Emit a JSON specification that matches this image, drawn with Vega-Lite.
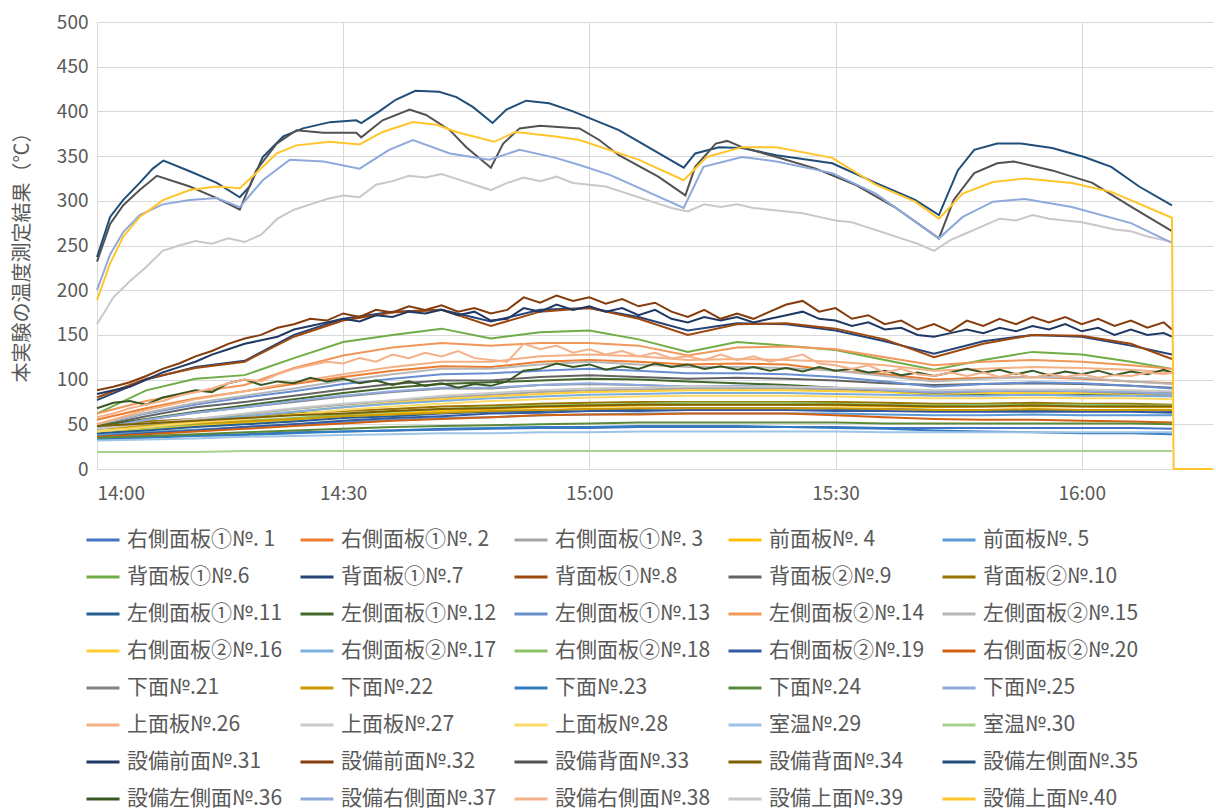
{
"$schema": "https://vega.github.io/schema/vega-lite/v6.json",
"width": 1116, "height": 447,
"autosize": {"type": "none"},
"padding": {"left": 97, "top": 22, "right": 3, "bottom": 343},
"background": "white",
"config": {"font": "Noto Sans CJK JP", "view": {"stroke": null}},
"datasets": {"names": [
{"key":"s01","name":"右側面板①№. 1"},{"key":"s02","name":"右側面板①№. 2"},{"key":"s03","name":"右側面板①№. 3"},{"key":"s04","name":"前面板№. 4"},{"key":"s05","name":"前面板№. 5"},
{"key":"s06","name":"背面板①№.6"},{"key":"s07","name":"背面板①№.7"},{"key":"s08","name":"背面板①№.8"},{"key":"s09","name":"背面板②№.9"},{"key":"s10","name":"背面板②№.10"},
{"key":"s11","name":"左側面板①№.11"},{"key":"s12","name":"左側面板①№.12"},{"key":"s13","name":"左側面板①№.13"},{"key":"s14","name":"左側面板②№.14"},{"key":"s15","name":"左側面板②№.15"},
{"key":"s16","name":"右側面板②№.16"},{"key":"s17","name":"右側面板②№.17"},{"key":"s18","name":"右側面板②№.18"},{"key":"s19","name":"右側面板②№.19"},{"key":"s20","name":"右側面板②№.20"},
{"key":"s21","name":"下面№.21"},{"key":"s22","name":"下面№.22"},{"key":"s23","name":"下面№.23"},{"key":"s24","name":"下面№.24"},{"key":"s25","name":"下面№.25"},
{"key":"s26","name":"上面板№.26"},{"key":"s27","name":"上面板№.27"},{"key":"s28","name":"上面板№.28"},{"key":"s29","name":"室温№.29"},{"key":"s30","name":"室温№.30"},
{"key":"s31","name":"設備前面№.31"},{"key":"s32","name":"設備前面№.32"},{"key":"s33","name":"設備背面№.33"},{"key":"s34","name":"設備背面№.34"},{"key":"s35","name":"設備左側面№.35"},
{"key":"s36","name":"設備左側面№.36"},{"key":"s37","name":"設備右側面№.37"},{"key":"s38","name":"設備右側面№.38"},{"key":"s39","name":"設備上面№.39"},{"key":"s40","name":"設備上面№.40"}
]},
"data": {"values": [
{"t":0,"s01":35,"s02":55,"s03":45,"s04":40,"s05":38,"s06":62,"s07":77,"s08":80,"s09":48,"s10":50,"s11":40,"s12":48,"s13":50,"s14":62,"s15":50,"s16":42,"s17":45,"s18":42,"s19":36,"s20":36,"s21":45,"s22":45,"s23":33,"s24":35,"s25":45,"s26":50,"s27":45,"s28":42,"s29":32,"s30":19,"s34":48},
{"t":6,"s01":36,"s02":68,"s03":50,"s04":44,"s05":41,"s06":88,"s07":100,"s08":101,"s09":59,"s10":53,"s11":43,"s12":56,"s13":62,"s14":76,"s15":63,"s16":48,"s17":50,"s18":46,"s19":40,"s20":39,"s21":55,"s22":48,"s23":35,"s24":37,"s25":55,"s26":66,"s27":51,"s28":47,"s29":33,"s30":19,"s34":51},
{"t":12,"s01":38,"s02":79,"s03":56,"s04":48,"s05":44,"s06":101,"s07":114,"s08":113,"s09":69,"s10":56,"s11":47,"s12":64,"s13":72,"s14":86,"s15":74,"s16":53,"s17":55,"s18":50,"s19":43,"s20":42,"s21":63,"s22":51,"s23":37,"s24":39,"s25":63,"s26":78,"s27":56,"s28":52,"s29":34,"s30":19,"s34":54},
{"t":18,"s01":39,"s02":87,"s03":61,"s04":52,"s05":47,"s06":105,"s07":121,"s08":120,"s09":75,"s10":59,"s11":50,"s12":71,"s13":80,"s14":94,"s15":82,"s16":59,"s17":59,"s18":54,"s19":47,"s20":45,"s21":69,"s22":53,"s23":38,"s24":41,"s25":69,"s26":87,"s27":62,"s28":56,"s29":36,"s30":20,"s34":57},
{"t":24,"s01":41,"s02":95,"s03":67,"s04":55,"s05":50,"s06":124,"s07":150,"s08":148,"s09":82,"s10":62,"s11":53,"s12":78,"s13":87,"s14":113,"s15":90,"s16":64,"s17":64,"s18":57,"s19":50,"s20":48,"s21":75,"s22":56,"s23":40,"s24":43,"s25":76,"s26":97,"s27":68,"s28":61,"s29":37,"s30":20,"s34":60},
{"t":30,"s01":42,"s02":103,"s03":72,"s04":59,"s05":52,"s06":142,"s07":168,"s08":166,"s09":89,"s10":65,"s11":57,"s12":85,"s13":95,"s14":127,"s15":99,"s16":69,"s17":69,"s18":61,"s19":54,"s20":51,"s21":81,"s22":59,"s23":42,"s24":45,"s25":82,"s26":106,"s27":73,"s28":66,"s29":38,"s30":20,"s34":62},
{"t":36,"s01":43,"s02":110,"s03":76,"s04":62,"s05":55,"s06":150,"s07":176,"s08":175,"s09":95,"s10":67,"s11":59,"s12":91,"s13":101,"s14":136,"s15":106,"s16":74,"s17":73,"s18":64,"s19":57,"s20":54,"s21":86,"s22":61,"s23":43,"s24":47,"s25":87,"s26":114,"s27":77,"s28":70,"s29":39,"s30":20,"s34":65},
{"t":42,"s01":44,"s02":115,"s03":80,"s04":65,"s05":57,"s06":157,"s07":178,"s08":178,"s09":99,"s10":70,"s11":62,"s12":95,"s13":106,"s14":141,"s15":112,"s16":78,"s17":76,"s18":67,"s19":59,"s20":56,"s21":90,"s22":63,"s23":45,"s24":48,"s25":91,"s26":120,"s27":82,"s28":73,"s29":40,"s30":20,"s34":67},
{"t":48,"s01":45,"s02":114,"s03":83,"s04":67,"s05":58,"s06":146,"s07":165,"s08":160,"s09":99,"s10":71,"s11":64,"s12":97,"s13":107,"s14":138,"s15":112,"s16":81,"s17":79,"s18":69,"s19":62,"s20":58,"s21":90,"s22":65,"s23":46,"s24":49,"s25":91,"s26":120,"s27":85,"s28":76,"s29":40,"s30":20,"s34":68},
{"t":54,"s01":46,"s02":120,"s03":86,"s04":69,"s05":60,"s06":153,"s07":178,"s08":176,"s09":103,"s10":73,"s11":65,"s12":99,"s13":110,"s14":141,"s15":117,"s16":84,"s17":81,"s18":71,"s19":63,"s20":60,"s21":94,"s22":66,"s23":47,"s24":50,"s25":94,"s26":126,"s27":88,"s28":78,"s29":41,"s30":20,"s34":70},
{"t":60,"s01":46,"s02":122,"s03":88,"s04":70,"s05":61,"s06":155,"s07":180,"s08":180,"s09":105,"s10":74,"s11":67,"s12":101,"s13":112,"s14":141,"s15":120,"s16":86,"s17":83,"s18":72,"s19":65,"s20":61,"s21":95,"s22":67,"s23":47,"s24":51,"s25":96,"s26":128,"s27":90,"s28":80,"s29":41,"s30":20,"s34":71},
{"t":66,"s01":47,"s02":120,"s03":89,"s04":71,"s05":62,"s06":145,"s07":170,"s08":168,"s09":103,"s10":75,"s11":67,"s12":100,"s13":110,"s14":138,"s15":117,"s16":87,"s17":84,"s18":73,"s19":65,"s20":61,"s21":94,"s22":68,"s23":48,"s24":52,"s25":94,"s26":126,"s27":91,"s28":81,"s29":42,"s30":20,"s34":72},
{"t":72,"s01":47,"s02":117,"s03":90,"s04":72,"s05":62,"s06":131,"s07":155,"s08":150,"s09":101,"s10":75,"s11":68,"s12":98,"s13":107,"s14":127,"s15":114,"s16":88,"s17":85,"s18":74,"s19":66,"s20":62,"s21":92,"s22":68,"s23":48,"s24":52,"s25":92,"s26":122,"s27":92,"s28":82,"s29":42,"s30":20,"s34":72},
{"t":78,"s01":47,"s02":118,"s03":90,"s04":72,"s05":62,"s06":142,"s07":163,"s08":162,"s09":102,"s10":75,"s11":68,"s12":96,"s13":107,"s14":136,"s15":114,"s16":88,"s17":85,"s18":74,"s19":66,"s20":62,"s21":92,"s22":68,"s23":48,"s24":52,"s25":93,"s26":123,"s27":92,"s28":82,"s29":42,"s30":20,"s34":72},
{"t":84,"s01":47,"s02":117,"s03":90,"s04":72,"s05":62,"s06":138,"s07":162,"s08":163,"s09":101,"s10":75,"s11":68,"s12":94,"s13":106,"s14":137,"s15":113,"s16":88,"s17":85,"s18":74,"s19":66,"s20":62,"s21":92,"s22":68,"s23":47,"s24":52,"s25":92,"s26":122,"s27":92,"s28":82,"s29":42,"s30":20,"s34":72},
{"t":90,"s01":47,"s02":110,"s03":89,"s04":71,"s05":62,"s06":133,"s07":155,"s08":157,"s09":99,"s10":75,"s11":67,"s12":91,"s13":103,"s14":134,"s15":110,"s16":87,"s17":84,"s18":73,"s19":65,"s20":60,"s21":90,"s22":68,"s23":46,"s24":52,"s25":91,"s26":120,"s27":91,"s28":81,"s29":42,"s30":20,"s34":72},
{"t":96,"s01":46,"s02":106,"s03":88,"s04":70,"s05":61,"s06":122,"s07":143,"s08":145,"s09":96,"s10":74,"s11":67,"s12":87,"s13":98,"s14":125,"s15":104,"s16":86,"s17":83,"s18":72,"s19":65,"s20":58,"s21":88,"s22":67,"s23":45,"s24":51,"s25":88,"s26":116,"s27":90,"s28":80,"s29":41,"s30":20,"s34":71},
{"t":102,"s01":46,"s02":100,"s03":86,"s04":69,"s05":60,"s06":111,"s07":129,"s08":125,"s09":94,"s10":73,"s11":66,"s12":83,"s13":92,"s14":116,"s15":98,"s16":84,"s17":82,"s18":71,"s19":64,"s20":56,"s21":85,"s22":66,"s23":43,"s24":51,"s25":86,"s26":110,"s27":88,"s28":79,"s29":41,"s30":20,"s34":70},
{"t":108,"s01":46,"s02":102,"s03":87,"s04":70,"s05":60,"s06":122,"s07":143,"s08":140,"s09":95,"s10":73,"s11":66,"s12":84,"s13":95,"s14":120,"s15":101,"s16":85,"s17":82,"s18":72,"s19":64,"s20":55,"s21":87,"s22":66,"s23":42,"s24":51,"s25":87,"s26":112,"s27":89,"s28":79,"s29":41,"s30":20,"s34":70},
{"t":114,"s01":46,"s02":103,"s03":87,"s04":70,"s05":61,"s06":131,"s07":150,"s08":150,"s09":96,"s10":74,"s11":66,"s12":85,"s13":97,"s14":122,"s15":103,"s16":85,"s17":83,"s18":72,"s19":64,"s20":55,"s21":88,"s22":67,"s23":41,"s24":51,"s25":88,"s26":114,"s27":89,"s28":80,"s29":41,"s30":20,"s34":71},
{"t":120,"s01":46,"s02":101,"s03":87,"s04":70,"s05":60,"s06":128,"s07":148,"s08":149,"s09":95,"s10":73,"s11":66,"s12":84,"s13":96,"s14":120,"s15":102,"s16":85,"s17":82,"s18":72,"s19":64,"s20":54,"s21":87,"s22":66,"s23":40,"s24":51,"s25":87,"s26":113,"s27":89,"s28":79,"s29":41,"s30":20,"s34":70},
{"t":126,"s01":46,"s02":98,"s03":86,"s04":69,"s05":60,"s06":120,"s07":138,"s08":140,"s09":93,"s10":73,"s11":66,"s12":83,"s13":93,"s14":116,"s15":98,"s16":84,"s17":82,"s18":71,"s19":64,"s20":53,"s21":85,"s22":66,"s23":40,"s24":51,"s25":86,"s26":111,"s27":88,"s28":79,"s29":41,"s30":20,"s34":70},
{"t":131,"s01":45,"s02":96,"s03":85,"s04":69,"s05":60,"s06":112,"s07":128,"s08":123,"s09":91,"s10":72,"s11":65,"s12":82,"s13":90,"s14":112,"s15":95,"s16":83,"s17":81,"s18":71,"s19":63,"s20":52,"s21":84,"s22":66,"s23":39,"s24":50,"s25":84,"s26":108,"s27":87,"s28":78,"s29":41,"s30":20,"s34":70},
{"t":0,"s31":84,"s32":88,"s36":68,"s38":58,"s39":162},
{"t":2,"s31":88,"s32":92,"s36":74,"s38":62,"s39":192},
{"t":4,"s31":92,"s32":97,"s36":76,"s38":68,"s39":210},
{"t":6,"s31":100,"s32":104,"s36":72,"s38":72,"s39":226},
{"t":8,"s31":108,"s32":112,"s36":80,"s38":76,"s39":244},
{"t":10,"s31":114,"s32":118,"s36":84,"s38":82,"s39":250},
{"t":12,"s31":120,"s32":126,"s36":88,"s38":86,"s39":255},
{"t":14,"s31":128,"s32":132,"s36":86,"s38":90,"s39":252},
{"t":16,"s31":134,"s32":140,"s36":96,"s38":96,"s39":258},
{"t":18,"s31":140,"s32":146,"s36":100,"s38":100,"s39":254},
{"t":20,"s31":144,"s32":150,"s36":94,"s38":98,"s39":262},
{"t":22,"s31":148,"s32":158,"s36":98,"s38":106,"s39":280},
{"t":24,"s31":156,"s32":162,"s36":96,"s38":112,"s39":290},
{"t":26,"s31":160,"s32":168,"s36":102,"s38":116,"s39":296},
{"t":28,"s31":164,"s32":166,"s36":98,"s38":120,"s39":302},
{"t":30,"s31":168,"s32":174,"s36":101,"s38":118,"s39":306},
{"t":32,"s31":165,"s32":170,"s36":96,"s38":124,"s39":304},
{"t":34,"s31":172,"s32":178,"s36":99,"s38":120,"s39":318},
{"t":36,"s31":170,"s32":175,"s36":94,"s38":128,"s39":322},
{"t":38,"s31":176,"s32":182,"s36":98,"s38":124,"s39":328},
{"t":40,"s31":174,"s32":178,"s36":93,"s38":130,"s39":326},
{"t":42,"s31":178,"s32":183,"s36":96,"s38":126,"s39":330},
{"t":44,"s31":172,"s32":176,"s36":91,"s38":132,"s39":324},
{"t":46,"s31":176,"s32":180,"s36":95,"s38":124,"s39":318},
{"t":48,"s31":166,"s32":174,"s36":93,"s38":122,"s39":312},
{"t":50,"s31":168,"s32":178,"s36":98,"s38":120,"s39":320},
{"t":52,"s31":180,"s32":192,"s36":110,"s38":140,"s39":326},
{"t":54,"s31":176,"s32":186,"s36":112,"s38":134,"s39":322},
{"t":56,"s31":184,"s32":194,"s36":118,"s38":138,"s39":327},
{"t":58,"s31":178,"s32":188,"s36":114,"s38":130,"s39":320},
{"t":60,"s31":182,"s32":192,"s36":117,"s38":134,"s39":318},
{"t":62,"s31":176,"s32":185,"s36":111,"s38":128,"s39":316},
{"t":64,"s31":180,"s32":190,"s36":115,"s38":132,"s39":310},
{"t":66,"s31":172,"s32":182,"s36":112,"s38":126,"s39":304},
{"t":68,"s31":178,"s32":186,"s36":118,"s38":130,"s39":298},
{"t":70,"s31":168,"s32":176,"s36":114,"s38":124,"s39":292},
{"t":72,"s31":164,"s32":170,"s36":117,"s38":126,"s39":288},
{"t":74,"s31":170,"s32":178,"s36":112,"s38":122,"s39":296},
{"t":76,"s31":166,"s32":168,"s36":115,"s38":128,"s39":293},
{"t":78,"s31":170,"s32":174,"s36":111,"s38":122,"s39":296},
{"t":80,"s31":164,"s32":168,"s36":114,"s38":126,"s39":292},
{"t":82,"s31":168,"s32":176,"s36":110,"s38":120,"s39":290},
{"t":84,"s31":172,"s32":184,"s36":113,"s38":124,"s39":288},
{"t":86,"s31":176,"s32":188,"s36":109,"s38":128,"s39":286},
{"t":88,"s31":168,"s32":176,"s36":114,"s38":118,"s39":282},
{"t":90,"s31":166,"s32":180,"s36":110,"s38":116,"s39":278},
{"t":92,"s31":160,"s32":168,"s36":112,"s38":112,"s39":276},
{"t":94,"s31":164,"s32":172,"s36":108,"s38":116,"s39":270},
{"t":96,"s31":156,"s32":162,"s36":110,"s38":108,"s39":264},
{"t":98,"s31":158,"s32":166,"s36":105,"s38":112,"s39":258},
{"t":100,"s31":150,"s32":156,"s36":108,"s38":106,"s39":252},
{"t":102,"s31":148,"s32":162,"s36":104,"s38":104,"s39":244},
{"t":104,"s31":152,"s32":154,"s36":108,"s38":108,"s39":256},
{"t":106,"s31":156,"s32":166,"s36":112,"s38":104,"s39":264},
{"t":108,"s31":152,"s32":160,"s36":108,"s38":108,"s39":272},
{"t":110,"s31":158,"s32":168,"s36":111,"s38":103,"s39":280},
{"t":112,"s31":154,"s32":162,"s36":106,"s38":107,"s39":278},
{"t":114,"s31":160,"s32":170,"s36":110,"s38":102,"s39":284},
{"t":116,"s31":156,"s32":164,"s36":105,"s38":106,"s39":280},
{"t":118,"s31":162,"s32":170,"s36":109,"s38":103,"s39":278},
{"t":120,"s31":154,"s32":162,"s36":106,"s38":106,"s39":276},
{"t":122,"s31":158,"s32":168,"s36":110,"s38":102,"s39":272},
{"t":124,"s31":150,"s32":160,"s36":105,"s38":105,"s39":268},
{"t":126,"s31":156,"s32":166,"s36":109,"s38":104,"s39":266},
{"t":128,"s31":150,"s32":158,"s36":106,"s38":108,"s39":260},
{"t":130,"s31":152,"s32":164,"s36":111,"s38":106,"s39":256},
{"t":131,"s31":148,"s32":156,"s36":108,"s38":108,"s39":254},
{"t":0,"s35":237},{"t":1.6,"s35":282},{"t":3.2,"s35":301},{"t":5.2,"s35":320},{"t":6.8,"s35":336},{"t":8.1,"s35":345},{"t":11.3,"s35":333},{"t":14.6,"s35":320},{"t":17.4,"s35":304},{"t":18.6,"s35":316},{"t":20.2,"s35":349},{"t":22.7,"s35":372},{"t":25.1,"s35":381},{"t":28.4,"s35":388},{"t":31.6,"s35":390},{"t":32.2,"s35":387},{"t":34.4,"s35":400},{"t":36.4,"s35":413},{"t":38.8,"s35":423},{"t":41.7,"s35":422},{"t":43.8,"s35":416},{"t":45.8,"s35":405},{"t":48.2,"s35":387},{"t":49.9,"s35":402},{"t":52.3,"s35":412},{"t":55.1,"s35":409},{"t":58,"s35":400},{"t":63.6,"s35":379},{"t":71.5,"s35":337},{"t":72.9,"s35":353},{"t":75.8,"s35":360},{"t":78.6,"s35":359},{"t":82.8,"s35":351},{"t":89.6,"s35":342},{"t":94.9,"s35":320},{"t":99.7,"s35":301},{"t":102.6,"s35":284},{"t":104.9,"s35":334},{"t":106.9,"s35":357},{"t":109.7,"s35":364},{"t":112.6,"s35":364},{"t":116.4,"s35":359},{"t":120.3,"s35":349},{"t":123.6,"s35":338},{"t":127,"s35":316},{"t":131,"s35":295},
{"t":0,"s33":232},{"t":1.6,"s33":274},{"t":3.2,"s33":295},{"t":5.2,"s33":312},{"t":7.3,"s33":328},{"t":11.3,"s33":316},{"t":14.6,"s33":303},{"t":17.4,"s33":290},{"t":19.4,"s33":334},{"t":21.9,"s33":364},{"t":24.3,"s33":379},{"t":27.6,"s33":376},{"t":31.6,"s33":376},{"t":32.2,"s33":371},{"t":34.8,"s33":390},{"t":38.1,"s33":402},{"t":40.1,"s33":396},{"t":43,"s33":379},{"t":45,"s33":360},{"t":48,"s33":337},{"t":49.5,"s33":364},{"t":51.5,"s33":381},{"t":54,"s33":384},{"t":58.8,"s33":381},{"t":61.2,"s33":368},{"t":63.6,"s33":351},{"t":68.4,"s33":327},{"t":71.7,"s33":306},{"t":72.9,"s33":338},{"t":75.4,"s33":364},{"t":76.8,"s33":367},{"t":78.6,"s33":360},{"t":82.8,"s33":349},{"t":87.6,"s33":336},{"t":92.4,"s33":318},{"t":97.2,"s33":293},{"t":102.6,"s33":258},{"t":104.4,"s33":301},{"t":106.9,"s33":331},{"t":109.7,"s33":342},{"t":111.7,"s33":344},{"t":116.4,"s33":334},{"t":121.3,"s33":320},{"t":126.1,"s33":293},{"t":131,"s33":266},
{"t":0,"s37":200},{"t":1.6,"s37":240},{"t":3.2,"s37":265},{"t":5.2,"s37":284},{"t":8,"s37":296},{"t":11.3,"s37":301},{"t":14.6,"s37":303},{"t":17.4,"s37":293},{"t":20.2,"s37":323},{"t":23.5,"s37":346},{"t":27.6,"s37":344},{"t":32,"s37":336},{"t":35.6,"s37":357},{"t":38.5,"s37":368},{"t":43,"s37":353},{"t":47.8,"s37":346},{"t":51.5,"s37":357},{"t":55.9,"s37":348},{"t":58.8,"s37":340},{"t":62.5,"s37":329},{"t":71.5,"s37":292},{"t":73.9,"s37":338},{"t":78.6,"s37":349},{"t":82.8,"s37":344},{"t":89.6,"s37":331},{"t":94.9,"s37":308},{"t":102.6,"s37":258},{"t":105.5,"s37":282},{"t":109.2,"s37":299},{"t":113.1,"s37":302},{"t":118.8,"s37":293},{"t":126,"s37":275},{"t":131,"s37":253},
{"t":0,"s40":189},{"t":1.6,"s40":230},{"t":3.2,"s40":260},{"t":5.2,"s40":282},{"t":8.1,"s40":301},{"t":11.3,"s40":312},{"t":14.6,"s40":316},{"t":17.4,"s40":314},{"t":19.4,"s40":331},{"t":21.9,"s40":353},{"t":24.3,"s40":362},{"t":28.4,"s40":366},{"t":32,"s40":363},{"t":34.8,"s40":377},{"t":38.5,"s40":388},{"t":41.4,"s40":385},{"t":43.8,"s40":377},{"t":48.4,"s40":366},{"t":51,"s40":377},{"t":55.9,"s40":372},{"t":58.8,"s40":368},{"t":66,"s40":346},{"t":71.5,"s40":323},{"t":74.3,"s40":349},{"t":78.6,"s40":360},{"t":82.8,"s40":360},{"t":89.6,"s40":348},{"t":94.9,"s40":318},{"t":99.7,"s40":299},{"t":102.6,"s40":280},{"t":105.5,"s40":308},{"t":109.2,"s40":321},{"t":113.1,"s40":325},{"t":118.8,"s40":320},{"t":123.6,"s40":310},{"t":131,"s40":281},{"t":131.2,"s40":0},{"t":136,"s40":0}
]},
"transform": [
{"fold": ["s01","s02","s03","s04","s05","s06","s07","s08","s09","s10","s11","s12","s13","s14","s15","s16","s17","s18","s19","s20","s21","s22","s23","s24","s25","s26","s27","s28","s29","s30","s31","s32","s33","s34","s35","s36","s37","s38","s39","s40"], "as": ["key","v"]},
{"filter": "isValid(datum.v)"},
{"lookup": "key", "from": {"data": {"name": "names"}, "key": "key", "fields": ["name"]}}
],
"mark": {"type": "line", "strokeWidth": 2},
"encoding": {
"x": {"field": "t", "type": "quantitative", "scale": {"domain": [0, 136], "nice": false, "zero": false},
 "axis": {"title": null, "values": [0, 30, 60, 90, 120], "labelExpr": "datum.value == 0 ? '14:00' : datum.value == 30 ? '14:30' : datum.value == 60 ? '15:00' : datum.value == 90 ? '15:30' : '16:00'", "grid": true, "gridColor": "#d9d9d9", "domainColor": "#d9d9d9", "ticks": false, "labelPadding": 15, "labelFontSize": 19, "labelColor": "#595959", "labelFont": "Noto Sans CJK JP"}},
"y": {"field": "v", "type": "quantitative", "scale": {"domain": [0, 500], "nice": false},
 "axis": {"title": "本実験の温度測定結果（℃）", "values": [0,50,100,150,200,250,300,350,400,450,500], "grid": true, "gridColor": "#d9d9d9", "domain": false, "ticks": false, "labelPadding": 9, "labelFontSize": 19, "labelColor": "#595959", "titleFontSize": 20, "titleColor": "#595959", "titleFontWeight": "normal", "titleX": -75, "titleY": 230, "titleAngle": -90, "titleAlign": "center", "titleBaseline": "middle"}},
"color": {"field": "name", "type": "nominal",
 "scale": {"domain": ["右側面板①№. 1","右側面板①№. 2","右側面板①№. 3","前面板№. 4","前面板№. 5","背面板①№.6","背面板①№.7","背面板①№.8","背面板②№.9","背面板②№.10","左側面板①№.11","左側面板①№.12","左側面板①№.13","左側面板②№.14","左側面板②№.15","右側面板②№.16","右側面板②№.17","右側面板②№.18","右側面板②№.19","右側面板②№.20","下面№.21","下面№.22","下面№.23","下面№.24","下面№.25","上面板№.26","上面板№.27","上面板№.28","室温№.29","室温№.30","設備前面№.31","設備前面№.32","設備背面№.33","設備背面№.34","設備左側面№.35","設備左側面№.36","設備右側面№.37","設備右側面№.38","設備上面№.39","設備上面№.40"],
  "range": ["#4472C4","#ED7D31","#A5A5A5","#FFC000","#5B9BD5","#70AD47","#264478","#9E480E","#636363","#997300","#255E91","#43682B","#698ED0","#F1975A","#B7B7B7","#FFCD33","#7CAFDD","#8CC168","#335AA1","#D26012","#848484","#CC9A00","#327DC2","#5A8A39","#8FAADC","#F4B183","#C9C9C9","#FFD966","#9DC3E6","#A9D18E","#203864","#843C0C","#525252","#7F6000","#1F4E79","#385723","#8EA9DB","#F5B18A","#C8C8C8","#FFC52A"]},
 "legend": {"title": null, "orient": "none", "legendX": -12, "legendY": 500, "direction": "horizontal", "columns": 5, "symbolLimit": 0, "symbolType": "stroke", "symbolStrokeWidth": 3, "symbolSize": 1089, "labelFontSize": 21, "labelColor": "#595959", "labelOffset": 6, "labelLimit": 400, "columnPadding": 11, "rowPadding": 9, "gridAlign": "all", "labelFont": "Noto Sans CJK JP"}}
}
}
